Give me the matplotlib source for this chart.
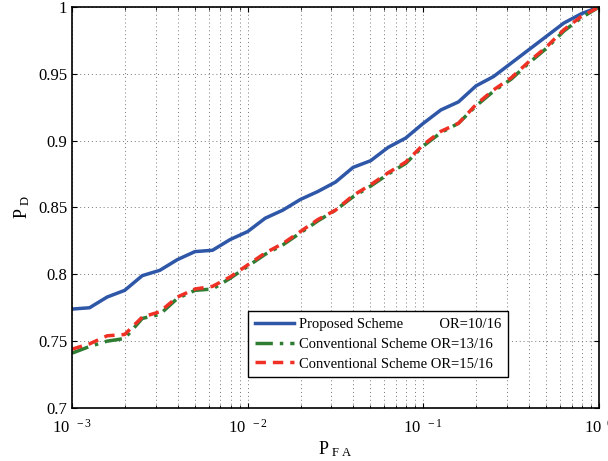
import matplotlib
matplotlib.use("Agg")
import matplotlib.pyplot as plt
import numpy as np
from matplotlib.ticker import LogLocator, FixedLocator, FuncFormatter

plt.rcParams['font.family'] = ['Liberation Serif', 'DejaVu Serif']
plt.rcParams['mathtext.fontset'] = 'custom'
plt.rcParams['mathtext.rm'] = 'Liberation Serif'
plt.rcParams['mathtext.it'] = 'Liberation Serif'

# P_FA sampled on a log grid, 10 points per decade
p_fa = 10.0 ** np.linspace(-3, 0, 31)

pd_proposed = [0.774, 0.775, 0.783, 0.788, 0.799, 0.803, 0.811, 0.817, 0.818, 0.826,
               0.832, 0.842, 0.848, 0.856, 0.862, 0.869, 0.880, 0.885, 0.895, 0.902,
               0.913, 0.923, 0.929, 0.941, 0.948, 0.958, 0.968, 0.978, 0.988, 0.995, 1.0]
pd_conv13 = [0.741, 0.746, 0.750, 0.752, 0.767, 0.770, 0.782, 0.788, 0.789, 0.797,
             0.806, 0.815, 0.822, 0.831, 0.840, 0.848, 0.858, 0.866, 0.875, 0.883,
             0.896, 0.906, 0.913, 0.926, 0.937, 0.946, 0.958, 0.969, 0.982, 0.992, 1.0]
pd_conv15 = [0.744, 0.748, 0.754, 0.755, 0.768, 0.772, 0.783, 0.789, 0.791, 0.798,
             0.807, 0.816, 0.823, 0.832, 0.841, 0.848, 0.859, 0.867, 0.876, 0.884,
             0.897, 0.907, 0.913, 0.927, 0.938, 0.947, 0.959, 0.970, 0.983, 0.993, 1.0]

labels = ["Proposed Scheme          OR=10/16",
          "Conventional Scheme OR=13/16",
          "Conventional Scheme OR=15/16"]

fig = plt.figure(figsize=(6.08, 4.61), dpi=100)
ax = fig.add_axes([0.1184, 0.115, 0.8668, 0.8698])

ax.plot(p_fa, pd_proposed, color="#2F57A8", lw=2.5, label=labels[0])
ax.plot(p_fa, pd_conv13, color="#2E7D32", lw=2.5, ls=(0, (5, 2, 1, 2)), label=labels[1])
ax.plot(p_fa, pd_conv15, color="#EE3124", lw=2.5, ls=(0, (3, 2)), label=labels[2])

ax.set_xscale("log")
ax.set_xlim(1e-3, 1)
ax.set_ylim(0.7, 1.0)
ax.set_yticks([0.7, 0.75, 0.8, 0.85, 0.9, 0.95, 1.0])
ax.set_yticklabels(["0.7", "0.75", "0.8", "0.85", "0.9", "0.95", "1"])
ax.xaxis.set_major_locator(FixedLocator([1e-3, 1e-2, 1e-1, 1]))
ax.xaxis.set_minor_locator(LogLocator(base=10, subs=np.arange(2, 10)))
ax.xaxis.set_major_formatter(FuncFormatter(lambda v, p: r"$10^{\ \ %d}$" % int(round(np.log10(v)))))

ax.grid(True, which="major", ls=(0, (1, 3)), lw=0.7, color="#777777")
ax.grid(True, which="minor", axis="x", ls=(0, (1, 3)), lw=0.7, color="#777777")
ax.tick_params(which="both", direction="in", top=True, right=True, labelsize=12)
ax.tick_params(axis="x", which="major", pad=8)
for s in ax.spines.values():
    s.set_linewidth(1.2)

ax.set_xlabel(r"$\mathrm{P}_{\ \mathrm{F\ A}}$", fontsize=13, labelpad=2)
ax.set_ylabel(r"$\mathrm{P}_{\ \mathrm{D}}$", fontsize=13)

leg = ax.legend(loc="lower left", bbox_to_anchor=(0.334, 0.077), fontsize=10.5,
                fancybox=False, edgecolor="black", framealpha=1,
                handlelength=2.7, borderpad=0.45, labelspacing=0.45, handletextpad=0.35,
                borderaxespad=0)
leg.get_frame().set_linewidth(1.0)

fig.savefig("out.png", dpi=100)
